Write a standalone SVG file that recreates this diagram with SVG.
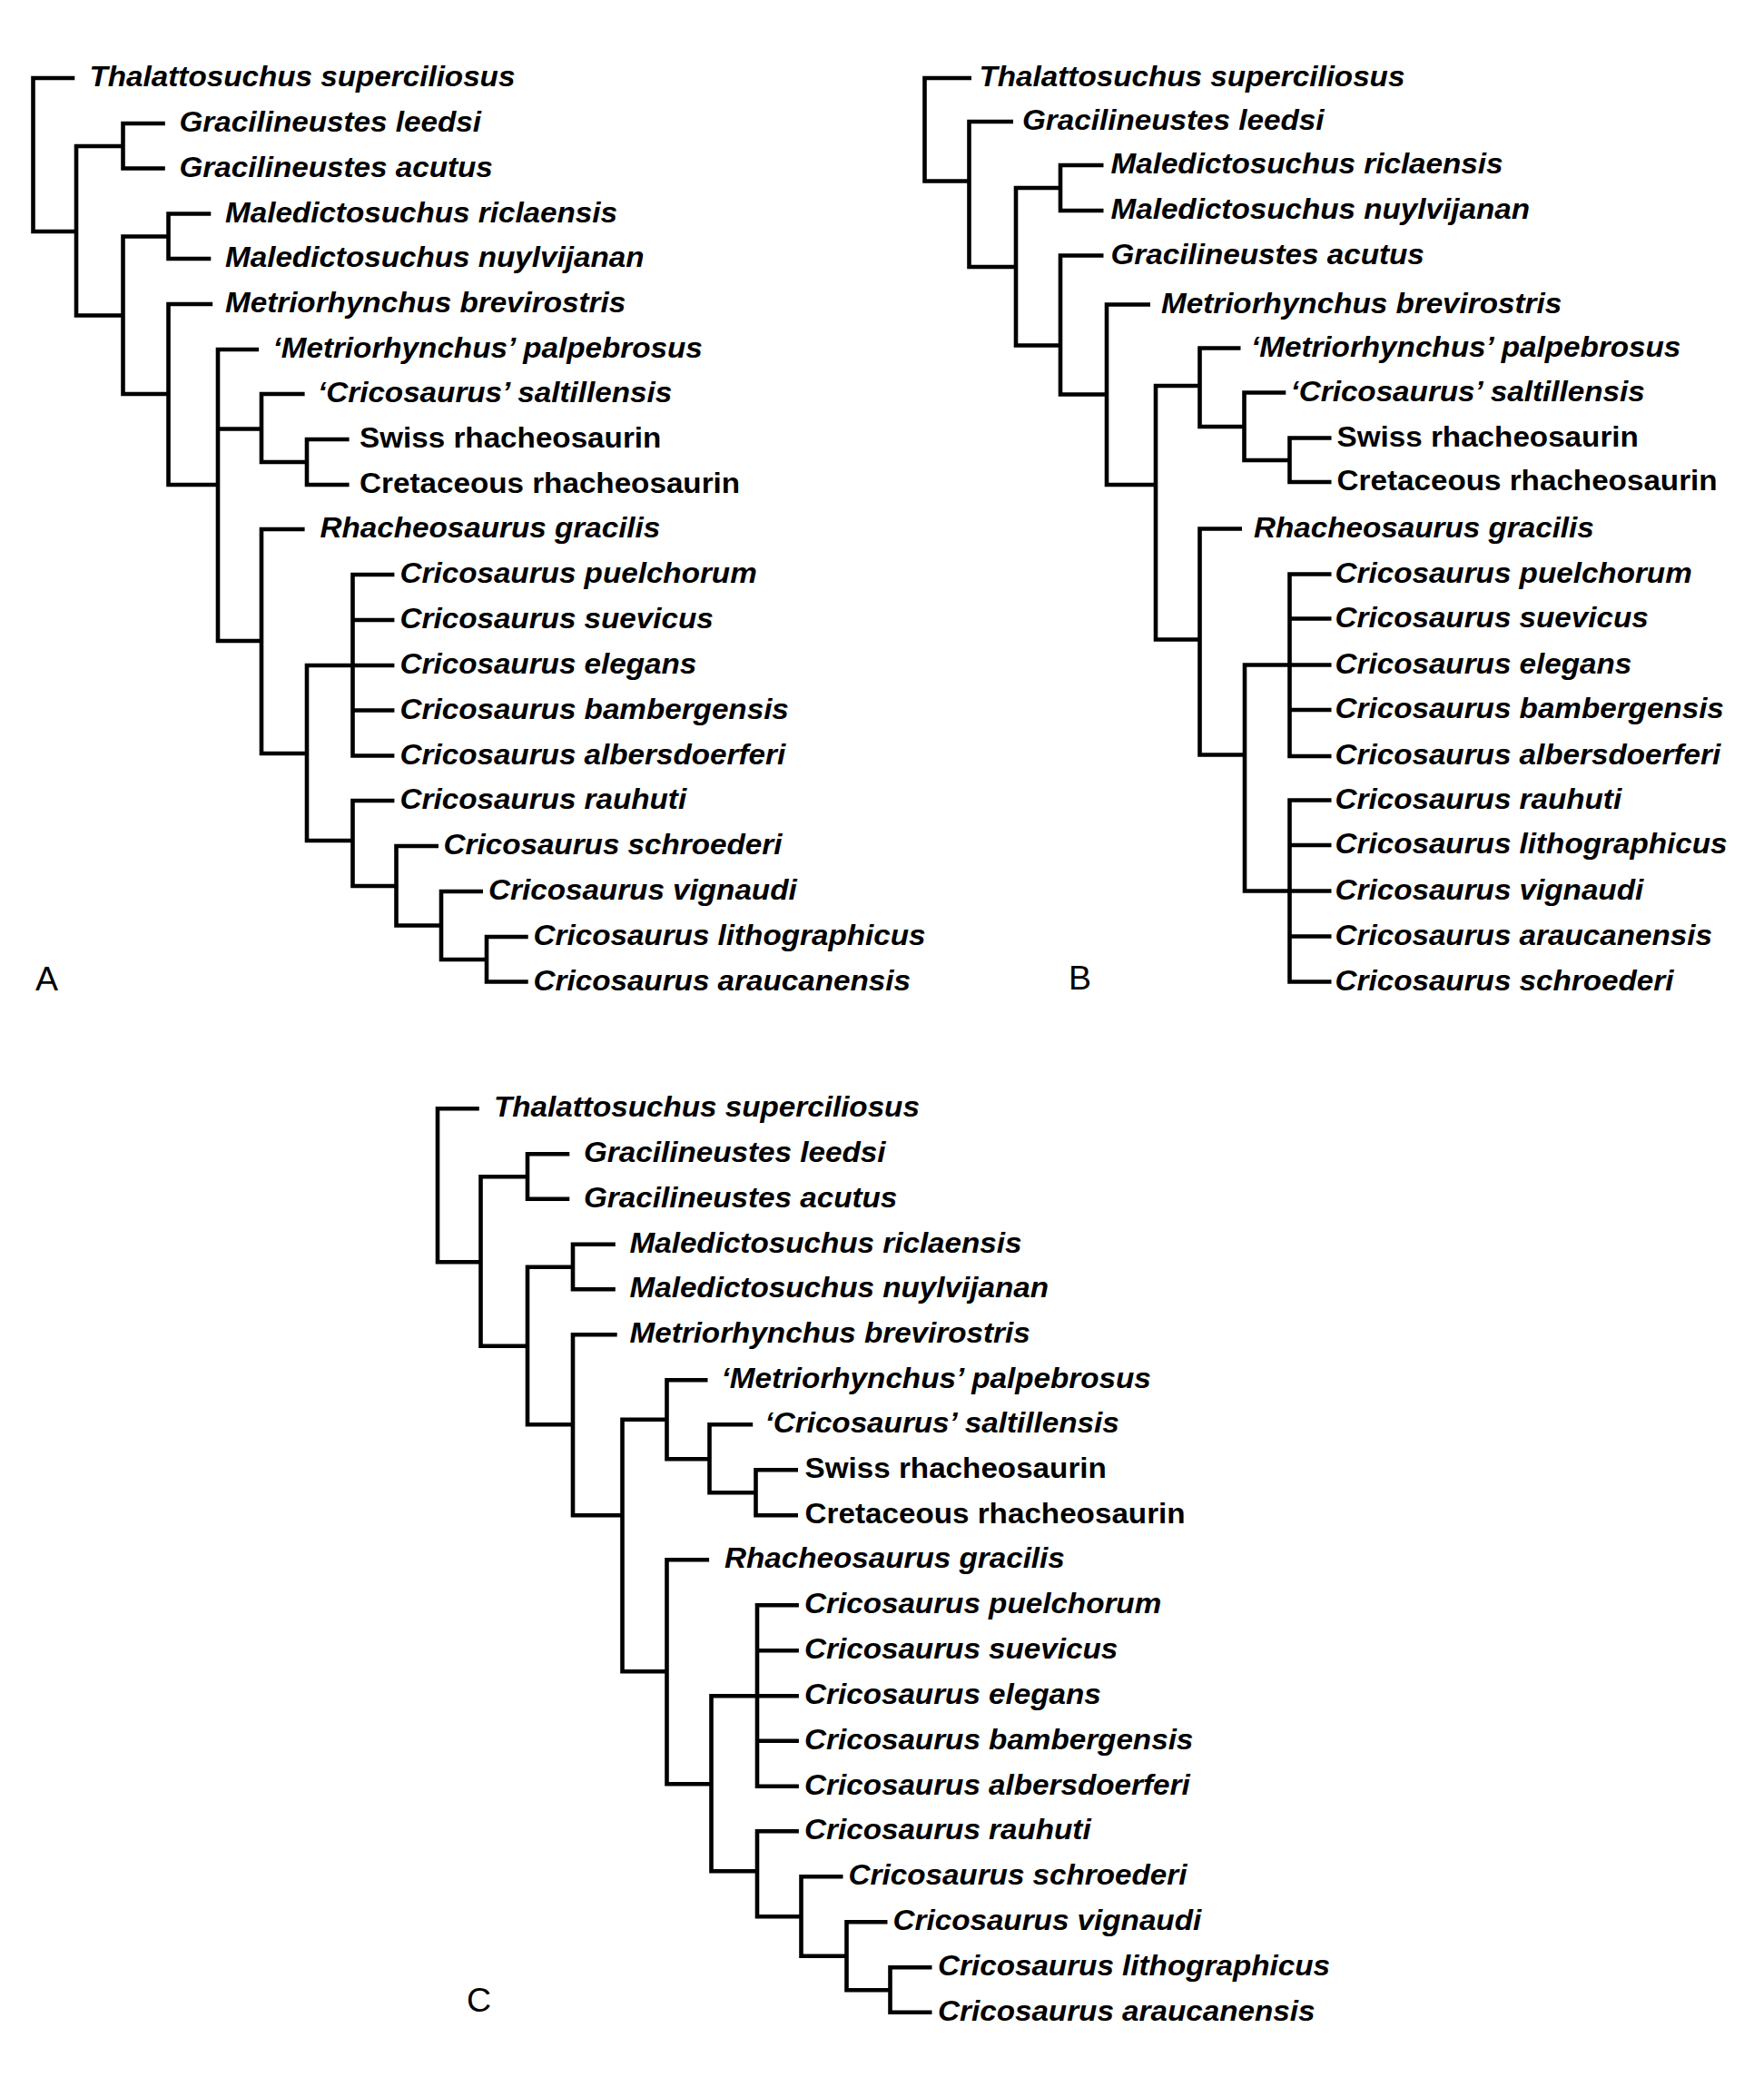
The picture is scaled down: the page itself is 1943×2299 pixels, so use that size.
<svg xmlns="http://www.w3.org/2000/svg" width="1943" height="2299" viewBox="0 0 1943 2299">
<style>
.br path{fill:none;stroke:#000;stroke-width:4.6;stroke-linejoin:miter;stroke-linecap:butt}
.t{font-family:"Liberation Sans",Arial,Helvetica,sans-serif;font-weight:bold;font-style:italic;font-size:31px;fill:#000}
.t.r{font-style:normal}
.lab{font-family:"Liberation Sans",Arial,Helvetica,sans-serif;font-size:37.5px;fill:#000}
</style>
<rect width="1943" height="2299" fill="#fff"/>

<!-- ================= TREE A ================= -->
<g id="treeA">
<g id="A-connectors" class="br">
<path d="M82.3 86H36.5V255H84"/>
<path d="M135.5 161H84V347.5H135.5"/>
<path d="M181.8 136H135.5V185.5H181.8"/>
<path d="M185.5 260.5H135.5V434H185.5"/>
<path d="M232.3 235.5H185.5V285H232.3"/>
<path d="M234.2 335H185.5V534H240"/>
<path d="M285.1 385H240V706H288M240 472.5H288"/>
<path d="M335.6 434H288V509H338"/>
<path d="M384.6 484H338V534H384.6"/>
<path d="M335.6 583H288V830H338"/>
<path d="M434.4 733H338V926H388.5"/>
<path d="M434.4 633H388.5V832.5H434.4M388.5 683H434.4M388.5 782.5H434.4"/>
<path d="M434.4 882H388.5V976H436.5"/>
<path d="M483 932H436.5V1019.5H486"/>
<path d="M532 982H486V1057H536"/>
<path d="M581.7 1032H536V1081.5H581.7"/>
</g>
<g id="A-taxa">
<g id="A-thalattosuchus"><text class="t" transform="translate(98.5 95) scale(1.072 1)">Thalattosuchus superciliosus</text></g>
<g id="A-gracilineustes-leedsi"><text class="t" transform="translate(197.5 145) scale(1.072 1)">Gracilineustes leedsi</text></g>
<g id="A-gracilineustes-acutus"><text class="t" transform="translate(197.5 194.5) scale(1.072 1)">Gracilineustes acutus</text></g>
<g id="A-maledictosuchus-riclaensis"><text class="t" transform="translate(248 244.5) scale(1.072 1)">Maledictosuchus riclaensis</text></g>
<g id="A-maledictosuchus-nuylvijanan"><text class="t" transform="translate(248 294) scale(1.072 1)">Maledictosuchus nuylvijanan</text></g>
<g id="A-metriorhynchus-brevirostris"><text class="t" transform="translate(248 344) scale(1.072 1)">Metriorhynchus brevirostris</text></g>
<g id="A-metriorhynchus-palpebrosus"><text class="t" transform="translate(300.5 394) scale(1.072 1)">‘Metriorhynchus’ palpebrosus</text></g>
<g id="A-cricosaurus-saltillensis"><text class="t" transform="translate(350 443) scale(1.072 1)">‘Cricosaurus’ saltillensis</text></g>
<g id="A-swiss-rhacheosaurin"><text class="t r" transform="translate(396 493) scale(1.072 1)">Swiss rhacheosaurin</text></g>
<g id="A-cretaceous-rhacheosaurin"><text class="t r" transform="translate(396 543) scale(1.072 1)">Cretaceous rhacheosaurin</text></g>
<g id="A-rhacheosaurus-gracilis"><text class="t" transform="translate(352.5 592) scale(1.072 1)">Rhacheosaurus gracilis</text></g>
<g id="A-cricosaurus-puelchorum"><text class="t" transform="translate(440.5 642) scale(1.072 1)">Cricosaurus puelchorum</text></g>
<g id="A-cricosaurus-suevicus"><text class="t" transform="translate(440.5 692) scale(1.072 1)">Cricosaurus suevicus</text></g>
<g id="A-cricosaurus-elegans"><text class="t" transform="translate(440.5 742) scale(1.072 1)">Cricosaurus elegans</text></g>
<g id="A-cricosaurus-bambergensis"><text class="t" transform="translate(440.5 791.5) scale(1.072 1)">Cricosaurus bambergensis</text></g>
<g id="A-cricosaurus-albersdoerferi"><text class="t" transform="translate(440.5 841.5) scale(1.072 1)">Cricosaurus albersdoerferi</text></g>
<g id="A-cricosaurus-rauhuti"><text class="t" transform="translate(440.5 891) scale(1.072 1)">Cricosaurus rauhuti</text></g>
<g id="A-cricosaurus-schroederi"><text class="t" transform="translate(488.5 941) scale(1.072 1)">Cricosaurus schroederi</text></g>
<g id="A-cricosaurus-vignaudi"><text class="t" transform="translate(538 991) scale(1.072 1)">Cricosaurus vignaudi</text></g>
<g id="A-cricosaurus-lithographicus"><text class="t" transform="translate(587.5 1041) scale(1.072 1)">Cricosaurus lithographicus</text></g>
<g id="A-cricosaurus-araucanensis"><text class="t" transform="translate(587.5 1090.5) scale(1.072 1)">Cricosaurus araucanensis</text></g>
</g>
<text id="label-A" class="lab" x="39" y="1091">A</text>
</g>

<!-- ================= TREE B ================= -->
<g id="treeB">
<g id="B-connectors" class="br">
<path d="M1070 86H1018.5V199.5H1067.5"/>
<path d="M1116 134H1067.5V294H1119"/>
<path d="M1168 207H1119V380.5H1168"/>
<path d="M1215.5 182H1168V232H1215.5"/>
<path d="M1215.5 281.5H1168V434.5H1219"/>
<path d="M1267 335.5H1219V534H1273"/>
<path d="M1321.5 425H1273V704.5H1321.5"/>
<path d="M1366.5 383.5H1321.5V470H1370.5"/>
<path d="M1416.3 432.5H1370.5V507H1420.5"/>
<path d="M1466.5 482.5H1420.5V531H1466.5"/>
<path d="M1368 582.5H1321.5V831.5H1371"/>
<path d="M1466.5 732.5H1371V981.5H1466.5"/>
<path d="M1466.5 632.5H1420.5V833H1466.5M1420.5 681.5H1466.5M1420.5 782H1466.5"/>
<path d="M1466.5 881.5H1420.5V1081.5H1466.5M1420.5 931H1466.5M1420.5 1031.5H1466.5"/>
</g>
<g id="B-taxa">
<g id="B-thalattosuchus"><text class="t" transform="translate(1078.5 95) scale(1.072 1)">Thalattosuchus superciliosus</text></g>
<g id="B-gracilineustes-leedsi"><text class="t" transform="translate(1126 143) scale(1.072 1)">Gracilineustes leedsi</text></g>
<g id="B-maledictosuchus-riclaensis"><text class="t" transform="translate(1223.5 191) scale(1.072 1)">Maledictosuchus riclaensis</text></g>
<g id="B-maledictosuchus-nuylvijanan"><text class="t" transform="translate(1223.5 241) scale(1.072 1)">Maledictosuchus nuylvijanan</text></g>
<g id="B-gracilineustes-acutus"><text class="t" transform="translate(1223.5 290.5) scale(1.072 1)">Gracilineustes acutus</text></g>
<g id="B-metriorhynchus-brevirostris"><text class="t" transform="translate(1279 344.5) scale(1.072 1)">Metriorhynchus brevirostris</text></g>
<g id="B-metriorhynchus-palpebrosus"><text class="t" transform="translate(1378 392.5) scale(1.072 1)">‘Metriorhynchus’ palpebrosus</text></g>
<g id="B-cricosaurus-saltillensis"><text class="t" transform="translate(1421.5 441.5) scale(1.072 1)">‘Cricosaurus’ saltillensis</text></g>
<g id="B-swiss-rhacheosaurin"><text class="t r" transform="translate(1472.5 491.5) scale(1.072 1)">Swiss rhacheosaurin</text></g>
<g id="B-cretaceous-rhacheosaurin"><text class="t r" transform="translate(1472.5 540) scale(1.072 1)">Cretaceous rhacheosaurin</text></g>
<g id="B-rhacheosaurus-gracilis"><text class="t" transform="translate(1381 591.5) scale(1.072 1)">Rhacheosaurus gracilis</text></g>
<g id="B-cricosaurus-puelchorum"><text class="t" transform="translate(1470.5 641.5) scale(1.072 1)">Cricosaurus puelchorum</text></g>
<g id="B-cricosaurus-suevicus"><text class="t" transform="translate(1470.5 690.5) scale(1.072 1)">Cricosaurus suevicus</text></g>
<g id="B-cricosaurus-elegans"><text class="t" transform="translate(1470.5 741.5) scale(1.072 1)">Cricosaurus elegans</text></g>
<g id="B-cricosaurus-bambergensis"><text class="t" transform="translate(1470.5 791) scale(1.072 1)">Cricosaurus bambergensis</text></g>
<g id="B-cricosaurus-albersdoerferi"><text class="t" transform="translate(1470.5 842) scale(1.072 1)">Cricosaurus albersdoerferi</text></g>
<g id="B-cricosaurus-rauhuti"><text class="t" transform="translate(1470.5 890.5) scale(1.072 1)">Cricosaurus rauhuti</text></g>
<g id="B-cricosaurus-lithographicus"><text class="t" transform="translate(1470.5 940) scale(1.072 1)">Cricosaurus lithographicus</text></g>
<g id="B-cricosaurus-vignaudi"><text class="t" transform="translate(1470.5 990.5) scale(1.072 1)">Cricosaurus vignaudi</text></g>
<g id="B-cricosaurus-araucanensis"><text class="t" transform="translate(1470.5 1040.5) scale(1.072 1)">Cricosaurus araucanensis</text></g>
<g id="B-cricosaurus-schroederi"><text class="t" transform="translate(1470.5 1090.5) scale(1.072 1)">Cricosaurus schroederi</text></g>
</g>
<text id="label-B" class="lab" x="1177" y="1089.5">B</text>
</g>

<!-- ================= TREE C ================= -->
<g id="treeC">
<g transform="translate(445.5 1135.3)">
<g id="C-connectors" class="br">
<path d="M82.3 86H36.5V255H84"/>
<path d="M135.5 161H84V347.5H135.5"/>
<path d="M181.8 136H135.5V185.5H181.8"/>
<path d="M185.5 260.5H135.5V434H185.5"/>
<path d="M232.3 235.5H185.5V285H232.3"/>
<path d="M234.2 335H185.5V534H240"/>
<path d="M289 428.5H240V706H289"/>
<path d="M334 385H289V472H336"/>
<path d="M383.7 434H336V509H387"/>
<path d="M433.5 484H387V534H433.5"/>
<path d="M335.6 583H289V830H338"/>
<path d="M434.4 733H338V926H388.5"/>
<path d="M434.4 633H388.5V832.5H434.4M388.5 683H434.4M388.5 782.5H434.4"/>
<path d="M434.4 882H388.5V976H437"/>
<path d="M483 932H437V1019.5H487"/>
<path d="M532 982H487V1057H535"/>
<path d="M581 1032H535V1081.5H581"/>
</g>
<g id="C-taxa">
<g id="C-thalattosuchus"><text class="t" transform="translate(98.5 95) scale(1.072 1)">Thalattosuchus superciliosus</text></g>
<g id="C-gracilineustes-leedsi"><text class="t" transform="translate(197.5 145) scale(1.072 1)">Gracilineustes leedsi</text></g>
<g id="C-gracilineustes-acutus"><text class="t" transform="translate(197.5 194.5) scale(1.072 1)">Gracilineustes acutus</text></g>
<g id="C-maledictosuchus-riclaensis"><text class="t" transform="translate(248 244.5) scale(1.072 1)">Maledictosuchus riclaensis</text></g>
<g id="C-maledictosuchus-nuylvijanan"><text class="t" transform="translate(248 294) scale(1.072 1)">Maledictosuchus nuylvijanan</text></g>
<g id="C-metriorhynchus-brevirostris"><text class="t" transform="translate(248 344) scale(1.072 1)">Metriorhynchus brevirostris</text></g>
<g id="C-metriorhynchus-palpebrosus"><text class="t" transform="translate(349 394) scale(1.072 1)">‘Metriorhynchus’ palpebrosus</text></g>
<g id="C-cricosaurus-saltillensis"><text class="t" transform="translate(397 443) scale(1.072 1)">‘Cricosaurus’ saltillensis</text></g>
<g id="C-swiss-rhacheosaurin"><text class="t r" transform="translate(441 493) scale(1.072 1)">Swiss rhacheosaurin</text></g>
<g id="C-cretaceous-rhacheosaurin"><text class="t r" transform="translate(441 543) scale(1.072 1)">Cretaceous rhacheosaurin</text></g>
<g id="C-rhacheosaurus-gracilis"><text class="t" transform="translate(352.5 592) scale(1.072 1)">Rhacheosaurus gracilis</text></g>
<g id="C-cricosaurus-puelchorum"><text class="t" transform="translate(440.5 642) scale(1.072 1)">Cricosaurus puelchorum</text></g>
<g id="C-cricosaurus-suevicus"><text class="t" transform="translate(440.5 692) scale(1.072 1)">Cricosaurus suevicus</text></g>
<g id="C-cricosaurus-elegans"><text class="t" transform="translate(440.5 742) scale(1.072 1)">Cricosaurus elegans</text></g>
<g id="C-cricosaurus-bambergensis"><text class="t" transform="translate(440.5 791.5) scale(1.072 1)">Cricosaurus bambergensis</text></g>
<g id="C-cricosaurus-albersdoerferi"><text class="t" transform="translate(440.5 841.5) scale(1.072 1)">Cricosaurus albersdoerferi</text></g>
<g id="C-cricosaurus-rauhuti"><text class="t" transform="translate(440.5 891) scale(1.072 1)">Cricosaurus rauhuti</text></g>
<g id="C-cricosaurus-schroederi"><text class="t" transform="translate(489 941) scale(1.072 1)">Cricosaurus schroederi</text></g>
<g id="C-cricosaurus-vignaudi"><text class="t" transform="translate(538 991) scale(1.072 1)">Cricosaurus vignaudi</text></g>
<g id="C-cricosaurus-lithographicus"><text class="t" transform="translate(587.5 1041) scale(1.072 1)">Cricosaurus lithographicus</text></g>
<g id="C-cricosaurus-araucanensis"><text class="t" transform="translate(587.5 1090.5) scale(1.072 1)">Cricosaurus araucanensis</text></g>
</g>
</g>
<text id="label-C" class="lab" x="514" y="2216">C</text>
</g>
</svg>
